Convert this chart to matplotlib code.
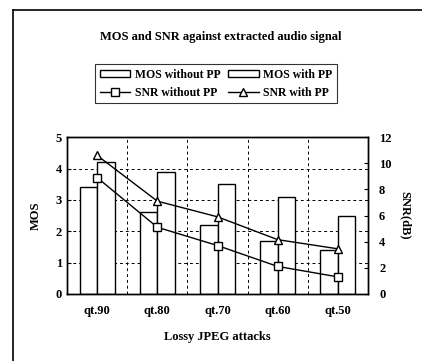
import numpy as np
import matplotlib.pyplot as plt
from matplotlib.lines import Line2D

plt.rcParams['font.family'] = ['Liberation Serif', 'DejaVu Serif']
plt.rcParams['font.weight'] = 'bold'
plt.rcParams['axes.labelweight'] = 'bold'

attacks = ['qt.90', 'qt.80', 'qt.70', 'qt.60', 'qt.50']
mos_without_pp = [3.4, 2.6, 2.2, 1.7, 1.4]
mos_with_pp = [4.2, 3.9, 3.5, 3.1, 2.5]
snr_without_pp = [8.9, 5.1, 3.7, 2.1, 1.3]
snr_with_pp = [10.6, 7.1, 5.9, 4.15, 3.45]

fig = plt.figure(figsize=(4.22, 3.61), dpi=100)
ax = fig.add_axes([0.159, 0.186, 0.713, 0.434])

x = np.arange(len(attacks))
w = 0.29
b1 = ax.bar(x - w / 2, mos_without_pp, width=w, facecolor='white', edgecolor='black', linewidth=1.0, label='MOS without PP')
b2 = ax.bar(x + w / 2, mos_with_pp, width=w, facecolor='white', edgecolor='black', linewidth=1.0, label='MOS with PP')
ax.set_ylim(0, 5)
ax.set_xlim(-0.5, len(attacks) - 0.5)
ax.set_yticks(range(0, 6))
ax.set_xticks(x)
ax.set_xticklabels(attacks)
ax.tick_params(axis='both', labelsize=9, length=3, direction='in')
ax.tick_params(axis='x', length=0, pad=8)
ax.set_ylabel('MOS', fontsize=9, labelpad=10)
ax.set_xlabel('Lossy JPEG attacks', fontsize=9, labelpad=10)

# dashed grid between categories and at every MOS step
for xv in x[:-1] + 0.5:
    ax.axvline(xv, color='black', linestyle=(0, (3, 3)), linewidth=0.7, zorder=0)
for yv in range(1, 5):
    ax.axhline(yv, color='black', linestyle=(0, (3, 3)), linewidth=0.7, zorder=0)

ax2 = ax.twinx()
l1, = ax2.plot(x, snr_without_pp, color='black', marker='s', markersize=6, markerfacecolor='white',
               markeredgecolor='black', linewidth=1.0, label='SNR without PP')
l2, = ax2.plot(x, snr_with_pp, color='black', marker='^', markersize=6, markerfacecolor='white',
               markeredgecolor='black', linewidth=1.0, label='SNR with PP')
ax2.set_ylim(0, 12)
ax2.set_yticks(range(0, 13, 2))
ax2.tick_params(axis='y', labelsize=9, length=3, direction='in', pad=8)
ax2.set_ylabel('SNR(dB)', fontsize=9, rotation=270, labelpad=14)

for a in (ax, ax2):
    for s in a.spines.values():
        s.set_linewidth(1.0)

fig.text(0.522, 0.897, 'MOS and SNR against extracted audio signal', ha='center', va='center', fontsize=9)

leg = fig.legend([b1, l1, b2, l2], ['MOS without PP', 'SNR without PP', 'MOS with PP', 'SNR with PP'],
                 ncol=2, loc='center', bbox_to_anchor=(0.512, 0.768), fontsize=8.5, frameon=True,
                 fancybox=False, edgecolor='black', handlelength=2.6, handleheight=0.5,
                 columnspacing=0.6, handletextpad=0.4, borderpad=0.4, labelspacing=0.5)
leg.get_frame().set_linewidth(0.8)

# page frame on the left and top
fig.add_artist(Line2D([0.031, 0.031], [0.0, 0.972], color='black', linewidth=1.2, transform=fig.transFigure))
fig.add_artist(Line2D([0.031, 1.0], [0.972, 0.972], color='black', linewidth=1.2, transform=fig.transFigure))

fig.savefig('out.png', dpi=100)
